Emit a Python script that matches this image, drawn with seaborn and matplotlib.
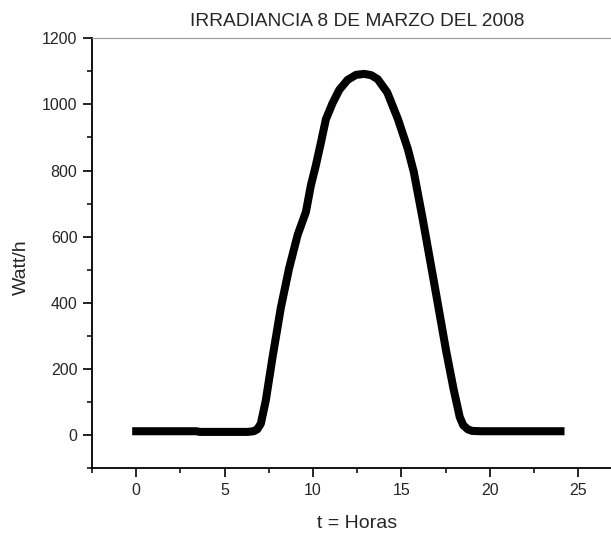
import matplotlib
matplotlib.use("Agg")
import matplotlib.pyplot as plt
from matplotlib.ticker import MultipleLocator
import seaborn as sns

# irradiance readings, 8 March 2008
hours = [0, 1, 2, 3, 3.4, 3.6, 4.5, 5.5, 6.3, 6.65, 6.85, 7.05, 7.33,
         7.71, 8.18, 8.65, 9.13, 9.6, 9.88, 10.16, 10.45, 10.73, 11.11,
         11.49, 11.96, 12.43, 12.9, 13.3, 13.66, 14.2, 14.8, 15.36, 15.7,
         16.2, 16.87, 17.53, 17.95, 18.3, 18.5, 18.75, 19.0, 19.5, 21, 22.5, 24]
watts = [12, 12, 12, 12, 12, 10, 10, 10, 10, 12, 18, 35, 105,
         235, 385, 505, 605, 675, 755, 815, 885, 955, 1004,
         1044, 1074, 1089, 1092, 1088, 1076, 1036, 956, 866, 796,
         655, 455, 255, 140, 55, 30, 18, 13, 12, 12, 12, 12]

title = "IRRADIANCIA 8 DE MARZO DEL 2008"
x_label = "t = Horas"
y_label = "Watt/h"

sns.set_style("ticks")
plt.rcParams["font.family"] = ["Liberation Sans", "DejaVu Sans"]
text_color = "#262626"

fig = plt.figure(figsize=(6.11, 5.33), dpi=100)
# axes run past the right edge, the original image is cropped there
ax = fig.add_axes([0.1506, 0.1214, 0.868, 0.807])

sns.lineplot(x=hours, y=watts, ax=ax, color="black", linewidth=5.8,
             sort=False, solid_capstyle="projecting", solid_joinstyle="round")

ax.set_xlim(-2.5, 27.5)
ax.set_ylim(-100, 1200)
ax.xaxis.set_major_locator(MultipleLocator(5))
ax.xaxis.set_minor_locator(MultipleLocator(2.5))
ax.yaxis.set_major_locator(MultipleLocator(200))
ax.yaxis.set_minor_locator(MultipleLocator(100))

for side in ["left", "bottom"]:
    ax.spines[side].set_linewidth(1.3)
    ax.spines[side].set_color("black")
ax.spines["top"].set_visible(True)
ax.spines["top"].set_color("#999999")
ax.spines["top"].set_linewidth(0.8)
ax.spines["right"].set_visible(False)

ax.tick_params(which="major", direction="out", length=6.5, width=1.2,
               color="black", labelsize=11.5, labelcolor=text_color, pad=4)
ax.tick_params(which="minor", direction="out", length=3.5, width=1.1,
               color="black")
ax.tick_params(top=False, right=False, which="both")

ax.set_title(title, fontsize=13.8, color=text_color, pad=9)
ax.set_xlabel(x_label, fontsize=14, color=text_color, labelpad=12)
ax.set_ylabel(y_label, fontsize=14, color=text_color)
ax.yaxis.set_label_coords(-0.117, 0.468)

fig.savefig("out.png", dpi=100)
